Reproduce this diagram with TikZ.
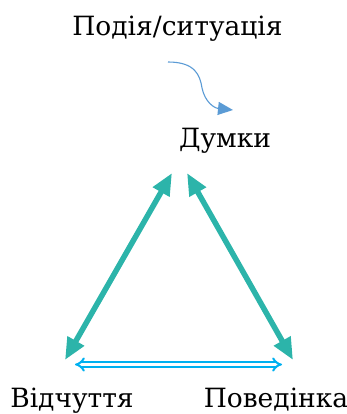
\documentclass[tikz,border=0pt]{standalone}
\usepackage{fontspec}
\setmainfont{DejaVu Serif}
\newfontfamily\ukrserif{DejaVu Serif}
\usetikzlibrary{arrows.meta}
\definecolor{teal2}{RGB}{44,180,170}
\definecolor{cyan2}{RGB}{0,176,240}
\definecolor{blue2}{RGB}{91,155,213}
\tikzset{
  lbl/.style={anchor=base, inner sep=0pt, font=\ukrserif\fontsize{26.5}{32}\selectfont},
  tealarrow/.style={draw=teal2, line width=5.5pt, {Triangle[length=22pt,width=18pt]}-{Triangle[length=22pt,width=18pt]}},
  dblarrow/.style={draw=cyan2, line width=2pt, double=white, double distance=2.6pt, {Implies[scale=1.2]}-{Implies[scale=1.2]}},
  curvarrow/.style={draw=blue2, line width=1.1pt, -{Triangle[length=15pt,width=13pt]}}
}
\begin{document}
\begin{tikzpicture}[x=1pt,y=-1pt]
\useasboundingbox (0,0) rectangle (347,414);
\node[lbl] (event) at (177.5,36) {Подія/ситуація};
\node[lbl] (thoughts) at (225,147) {Думки};
\node[lbl] (feel) at (72,407) {Відчуття};
\node[lbl] (behav) at (276,407) {Поведінка};
\coordinate (tl) at (172,173);
\coordinate (bl) at (65,360);
\coordinate (tr) at (187,173);
\coordinate (br) at (293,360);
\coordinate (dl) at (75,364.5);
\coordinate (dr) at (282,364.5);
\coordinate (cs) at (168,62);
\coordinate (ce) at (233,110);
\draw[tealarrow] (bl) -- (tl);
\draw[tealarrow] (br) -- (tr);
\draw[dblarrow] (dl) -- (dr);
\draw[curvarrow] (cs) .. controls (195,62) and (200,75) .. (202,88) .. controls (205,102) and (214,108) .. (ce);
\end{tikzpicture}
\end{document}
